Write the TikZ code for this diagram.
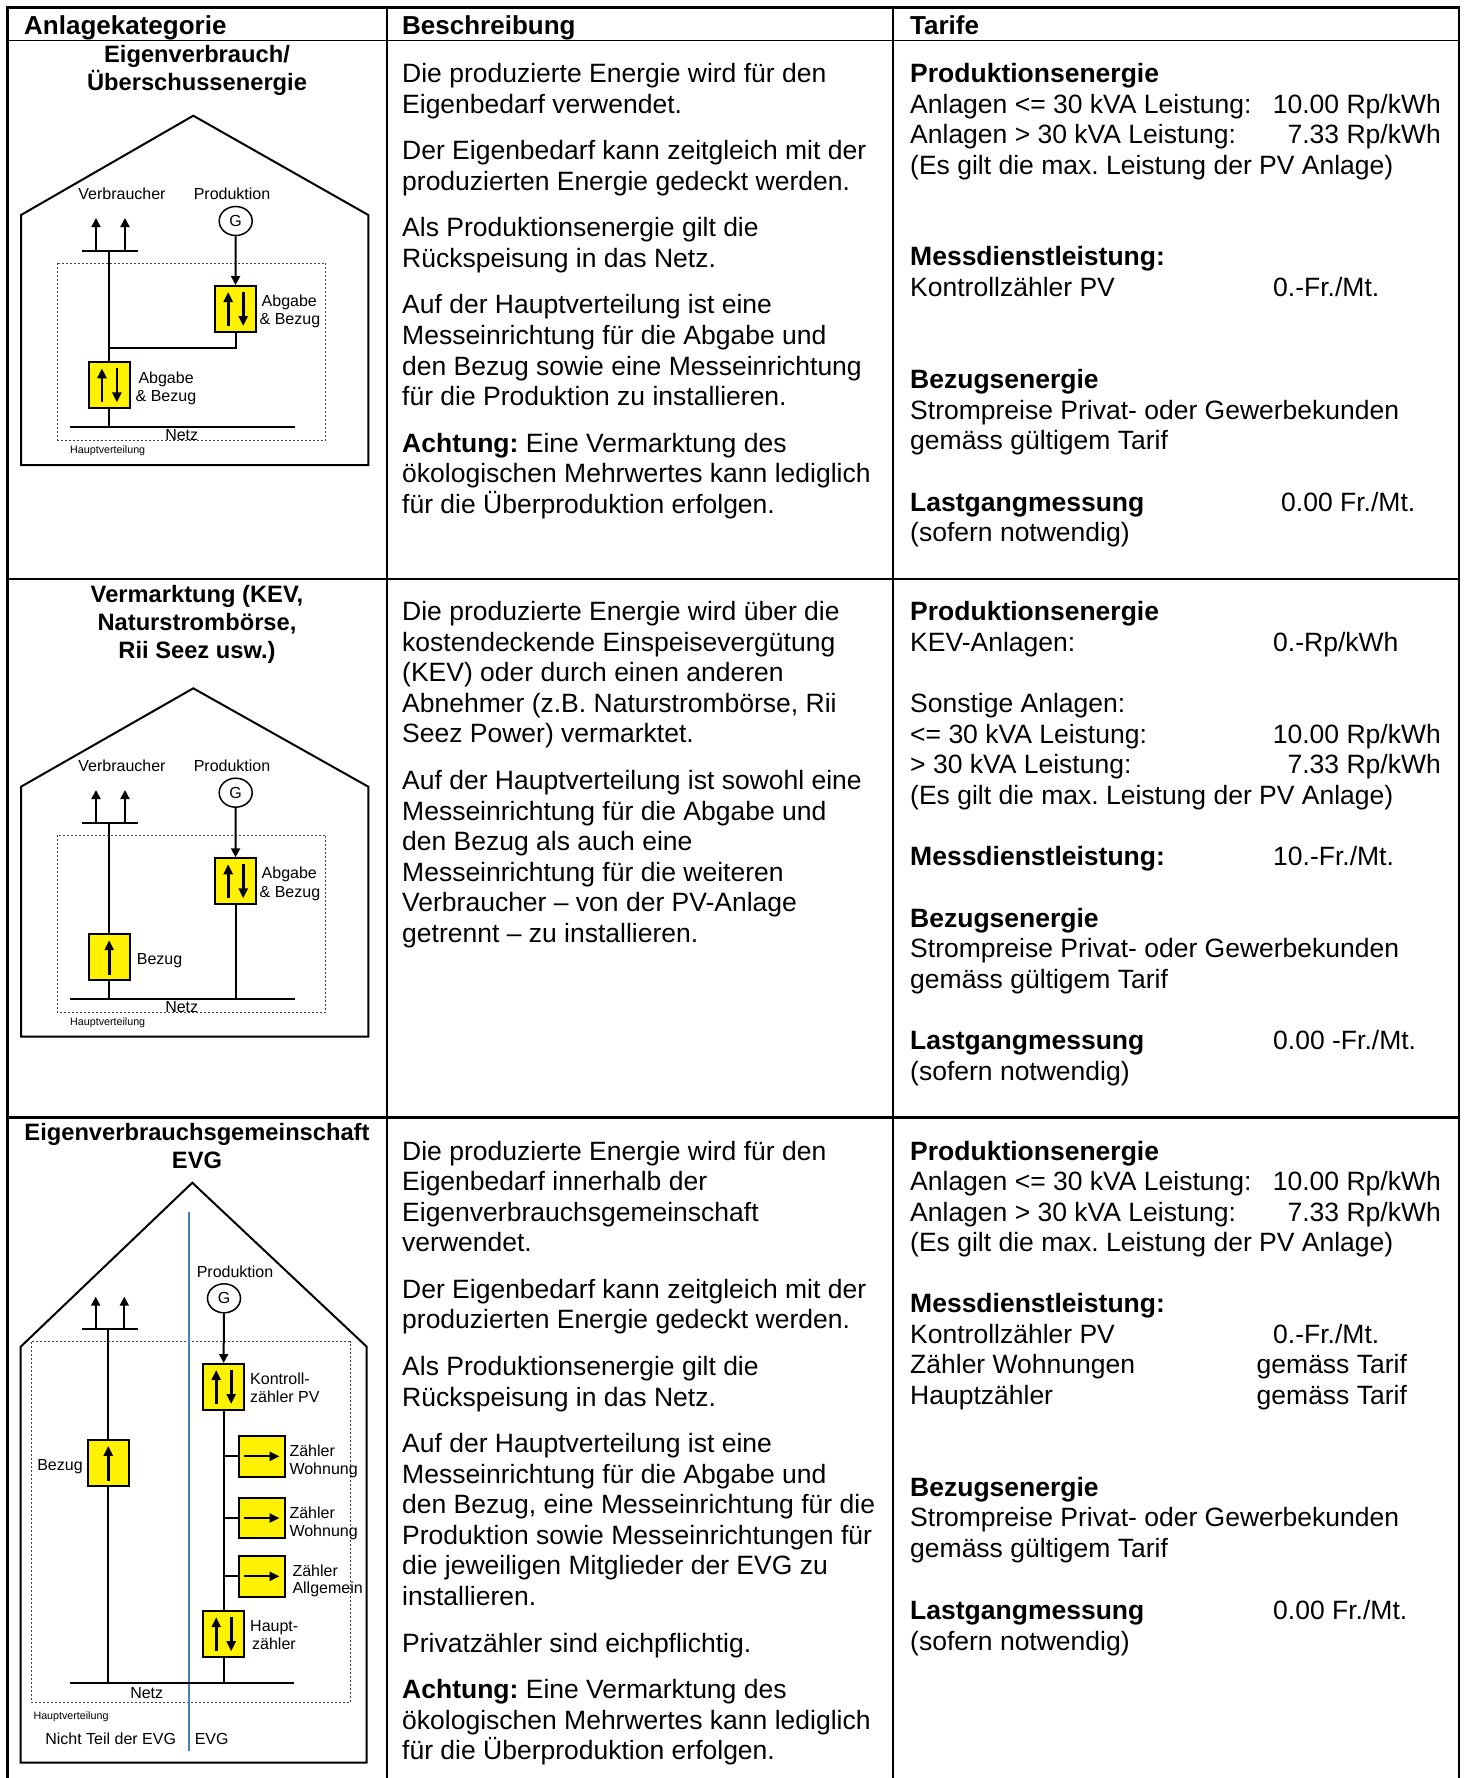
\documentclass[tikz,border=0pt]{standalone}
\usepackage{fontspec}
\setmainfont{Liberation Sans}
\usetikzlibrary{arrows.meta,shapes.geometric}
\frenchspacing
\newcount\lnum
\newcommand\Ln[3][]{\global\advance\lnum by 1\relax\node[body,#1] (ln\the\lnum) at (#2) {#3};}
\newcommand\lblfont{\fontsize{16pt}{19pt}\selectfont}
\newcommand\mupdown[1]{%
 \draw[marr] ([xshift=-7.3pt,yshift=7pt]#1.south) -- ([xshift=-7.3pt,yshift=-7pt]#1.north);
 \draw[marr] ([xshift=7.7pt,yshift=-7pt]#1.north) -- ([xshift=7.7pt,yshift=7pt]#1.south);}
\newcommand\mupone[1]{\draw[marr] ([yshift=6pt]#1.south) -- ([yshift=-7pt]#1.north);}
\newcommand\mright[1]{\draw[marr,line width=2.2pt] ([xshift=6pt]#1.west) -- ([xshift=-6.5pt]#1.east);}
\begin{document}
\begin{tikzpicture}[x=1pt,y=-1pt,
 wire/.style={line width=2pt,black},
 arr/.style={-{Triangle[length=9pt,width=9pt]}},
 marr/.style={line width=2.6pt,-{Triangle[length=10pt,width=9pt]}},
 meter/.style={draw,line width=2pt,fill=yellow,minimum width=41pt,minimum height=46pt,inner sep=0pt},
 zmeter/.style={meter,minimum width=46pt,minimum height=40.7pt},
 gen/.style={ellipse,draw,line width=1.5pt,minimum width=33pt,minimum height=29pt,inner sep=0pt,font=\lblfont},
 dist/.style={draw=black!75,line width=1pt,dash pattern=on 2pt off 2pt},
 house/.style={line width=2pt},
 lbl/.style={font=\lblfont,inner sep=0pt,anchor=base west},
 lblc/.style={lbl,anchor=base},
 tiny/.style={font=\fontsize{10.7pt}{12pt}\selectfont,inner sep=0pt,anchor=base},
 body/.style={font=\fontsize{26.5pt}{30.6pt}\selectfont,inner sep=0pt,anchor=base west},
 be/.style={anchor=base east},
 title/.style={font=\fontsize{23.7pt}{28pt}\selectfont\bfseries,inner sep=0pt,anchor=base},
 head/.style={font=\fontsize{26pt}{30pt}\selectfont\bfseries,inner sep=0pt,anchor=base west},
 evg/.style={draw={rgb,255:red,74;green,126;blue,187},line width=2pt}]
\useasboundingbox (0,0) rectangle (1467,1778);
\fill[white] (0,0) rectangle (1467,1778);
% ---------- table ----------
\draw[line width=2.5pt] (7.5,1778) -- (7.5,7.5) -- (1459,7.5) -- (1459,1778);
\draw[line width=1.5pt] (7.5,40.5) -- (1459,40.5);
\draw[line width=2.5pt] (7.5,579) -- (1459,579);
\draw[line width=2.5pt] (7.5,1117.5) -- (1459,1117.5);
\draw[line width=2pt] (387,7.5) -- (387,1778);
\draw[line width=2pt] (893,7.5) -- (893,1778);
\node[head] (h1) at (24,34) {Anlagekategorie};
\node[head] (h2) at (402,34) {Beschreibung};
\node[head] (h3) at (910,34) {Tarife};
% ---------- column 1 titles ----------
\node[title] (t1a) at (197,62.5) {Eigenverbrauch/};
\node[title] (t1b) at (197,90.8) {Überschussenergie};
\node[title] (t2a) at (197,602) {Vermarktung (KEV,};
\node[title] (t2b) at (197,630.3) {Naturstrombörse,};
\node[title] (t2c) at (197,658.6) {Rii Seez usw.)};
\node[title] (t3a) at (197,1140) {Eigenverbrauchsgemeinschaft};
\node[title] (t3b) at (197,1168.3) {EVG};
% ---------- house 1 ----------
\draw[house] (21,465) -- (21,215) -- (193.3,115.7) -- (368.3,215) -- (368.3,465) -- cycle;
\draw[dist] (57.3,263.3) rectangle (325.7,440);
\node[gen] (g1) at (235.7,221) {G};
\node[meter] (m1a) at (235.5,309) {};
\node[meter] (m1b) at (109.2,385.3) {};
\coordinate (b1l) at (81.7,251); \coordinate (b1r) at (138.3,251); \coordinate (b1c) at (109.2,251);
\coordinate (u1a0) at (96,251); \coordinate (u1a) at (96,218);
\coordinate (u1b0) at (125,251); \coordinate (u1b) at (125,218);
\coordinate (j1) at (109.2,348.3);
\coordinate (n1l) at (70,426.7); \coordinate (n1r) at (295,426.7);
\draw[wire] (b1l) -- (b1r);
\draw[wire,arr] (u1a0) -- (u1a);
\draw[wire,arr] (u1b0) -- (u1b);
\draw[wire,arr] (g1) -- (m1a);
\draw[wire] (m1a.south) |- (j1);
\draw[wire] (b1c) -- (m1b.north);
\draw[wire] (m1b.south) -- (m1b.south |- n1l);
\draw[wire] (n1l) -- (n1r);
\mupdown{m1a}
\mupdown{m1b}
\node[lblc] (v1) at (122,199.5) {Verbraucher};
\node[lblc] (p1) at (232,199.5) {Produktion};
\node[lbl] (a1a) at (261.5,306) {Abgabe};
\node[lbl] (a1b) at (259.5,324.5) {\& Bezug};
\node[lbl] (a1c) at (138.3,383.2) {Abgabe};
\node[lbl] (a1d) at (135.5,401.5) {\& Bezug};
\node[lblc] (nz1) at (181.7,440) {Netz};
\node[tiny] (hv1) at (107.7,453.8) {Hauptverteilung};
% ---------- house 2 ----------
\draw[house] (21,1036.7) -- (21,786.7) -- (193.3,688.3) -- (368.3,786.7) -- (368.3,1036.7) -- cycle;
\draw[dist] (57.3,835) rectangle (325.7,1012.3);
\node[gen] (g2) at (235.7,792.7) {G};
\node[meter] (m2a) at (235.5,881.3) {};
\node[meter] (m2b) at (109.2,957.2) {};
\coordinate (b2l) at (81.7,823.3); \coordinate (b2r) at (138.3,823.3); \coordinate (b2c) at (109.2,823.3);
\coordinate (u2a0) at (96,823.3); \coordinate (u2a) at (96,790);
\coordinate (u2b0) at (125,823.3); \coordinate (u2b) at (125,790);
\coordinate (n2l) at (70,999); \coordinate (n2r) at (295,999);
\draw[wire] (b2l) -- (b2r);
\draw[wire,arr] (u2a0) -- (u2a);
\draw[wire,arr] (u2b0) -- (u2b);
\draw[wire,arr] (g2) -- (m2a);
\draw[wire] (m2a.south) -- (m2a.south |- n2l);
\draw[wire] (b2c) -- (m2b.north);
\draw[wire] (m2b.south) -- (m2b.south |- n2l);
\draw[wire] (n2l) -- (n2r);
\mupdown{m2a}
\mupone{m2b}
\node[lblc] (v2) at (122,771.5) {Verbraucher};
\node[lblc] (p2) at (232,771.5) {Produktion};
\node[lbl] (a2a) at (261.5,878.2) {Abgabe};
\node[lbl] (a2b) at (259.5,897.2) {\& Bezug};
\node[lbl] (bz2) at (136.7,964.5) {Bezug};
\node[lblc] (nz2) at (181.7,1012.3) {Netz};
\node[tiny] (hv2) at (107.7,1025.5) {Hauptverteilung};
% ---------- house 3 ----------
\draw[house] (20.7,1762.7) -- (20.7,1346.7) -- (192.3,1182.7) -- (366.7,1346.7) -- (366.7,1762.7) -- cycle;
\draw[dist] (31.7,1341.7) rectangle (350,1702.7);
\coordinate (e1) at (189.3,1211.7); \coordinate (e2) at (189.3,1750.7);
\draw[evg] (e1) -- (e2);
\node[gen] (g3) at (224,1298.3) {G};
\node[meter] (kz) at (223.5,1387) {};
\node[meter] (bz3) at (108.3,1462.9) {};
\node[meter] (hz) at (223.5,1634.2) {};
\node[zmeter] (zw1) at (262,1456.3) {};
\node[zmeter] (zw2) at (262,1518) {};
\node[zmeter] (za) at (262,1576.3) {};
\coordinate (b3l) at (81.7,1329); \coordinate (b3r) at (137.7,1329); \coordinate (b3c) at (108.3,1329);
\coordinate (u3a0) at (95.7,1329); \coordinate (u3a) at (95.7,1296.7);
\coordinate (u3b0) at (124.3,1329); \coordinate (u3b) at (124.3,1296.7);
\coordinate (n3l) at (70,1683.3); \coordinate (n3r) at (294,1683.3);
\draw[wire] (b3l) -- (b3r);
\draw[wire,arr] (u3a0) -- (u3a);
\draw[wire,arr] (u3b0) -- (u3b);
\draw[wire,arr] (g3) -- (kz);
\draw[wire] (kz.south) -- (hz.north);
\draw[wire] (zw1.west) -- (zw1.west -| kz.south);
\draw[wire] (zw2.west) -- (zw2.west -| kz.south);
\draw[wire] (za.west) -- (za.west -| kz.south);
\draw[wire] (hz.south) -- (hz.south |- n3l);
\draw[wire] (b3c) -- (bz3.north);
\draw[wire] (bz3.south) -- (bz3.south |- n3l);
\draw[wire] (n3l) -- (n3r);
\mupdown{kz}
\mupdown{hz}
\mupone{bz3}
\mright{zw1}
\mright{zw2}
\mright{za}
\node[lblc] (p3) at (235,1277.2) {Produktion};
\node[lbl] (k3a) at (250,1384.5) {Kontroll-};
\node[lbl] (k3b) at (250,1402.2) {zähler PV};
\node[lbl] (w1a) at (289.3,1456.5) {Zähler};
\node[lbl] (w1b) at (289.3,1474.5) {Wohnung};
\node[lbl] (w2a) at (289.3,1518.2) {Zähler};
\node[lbl] (w2b) at (289.3,1536.2) {Wohnung};
\node[lbl] (aa) at (292.3,1576.2) {Zähler};
\node[lbl] (ab) at (292.3,1593.8) {Allgemein};
\node[lbl] (hza) at (250,1631.2) {Haupt-};
\node[lbl] (hzb) at (252,1649.5) {zähler};
\node[lblc] (bz3l) at (60,1470.5) {Bezug};
\node[lblc] (nz3) at (146.7,1698.8) {Netz};
\node[tiny] (hv3) at (71,1719.5) {Hauptverteilung};
\node[lblc] (nt) at (110.7,1744.8) {Nicht Teil der EVG};
\node[lblc] (ev) at (211.7,1744.8) {EVG};
% ---------- column 2 ----------
\Ln{402,82.5}{Die produzierte Energie wird für den}
\Ln{402,113.1}{Eigenbedarf verwendet.}
\Ln{402,159.6}{Der Eigenbedarf kann zeitgleich mit der}
\Ln{402,190.2}{produzierten Energie gedeckt werden.}
\Ln{402,236.7}{Als Produktionsenergie gilt die}
\Ln{402,267.3}{Rückspeisung in das Netz.}
\Ln{402,313.8}{Auf der Hauptverteilung ist eine}
\Ln{402,344.4}{Messeinrichtung für die Abgabe und}
\Ln{402,375.0}{den Bezug sowie eine Messeinrichtung}
\Ln{402,405.6}{für die Produktion zu installieren.}
\Ln{402,452.1}{{\bfseries Achtung:} Eine Vermarktung des}
\Ln{402,482.7}{ökologischen Mehrwertes kann lediglich}
\Ln{402,513.3}{für die Überproduktion erfolgen.}
\Ln{402,620.5}{Die produzierte Energie wird über die}
\Ln{402,651.1}{kostendeckende Einspeisevergütung}
\Ln{402,681.7}{(KEV) oder durch einen anderen}
\Ln{402,712.3}{Abnehmer (z.B. Naturstrombörse, Rii}
\Ln{402,742.9}{Seez Power) vermarktet.}
\Ln{402,789.4}{Auf der Hauptverteilung ist sowohl eine}
\Ln{402,820.0}{Messeinrichtung für die Abgabe und}
\Ln{402,850.6}{den Bezug als auch eine}
\Ln{402,881.2}{Messeinrichtung für die weiteren}
\Ln{402,911.8}{Verbraucher – von der PV-Anlage}
\Ln{402,942.4}{getrennt – zu installieren.}
\Ln{402,1160}{Die produzierte Energie wird für den}
\Ln{402,1190.6}{Eigenbedarf innerhalb der}
\Ln{402,1221.2}{Eigenverbrauchsgemeinschaft}
\Ln{402,1251.8}{verwendet.}
\Ln{402,1298.3}{Der Eigenbedarf kann zeitgleich mit der}
\Ln{402,1328.9}{produzierten Energie gedeckt werden.}
\Ln{402,1375.4}{Als Produktionsenergie gilt die}
\Ln{402,1406}{Rückspeisung in das Netz.}
\Ln{402,1452.5}{Auf der Hauptverteilung ist eine}
\Ln{402,1483.1}{Messeinrichtung für die Abgabe und}
\Ln{402,1513.7}{den Bezug, eine Messeinrichtung für die}
\Ln{402,1544.3}{Produktion sowie Messeinrichtungen für}
\Ln{402,1574.9}{die jeweiligen Mitglieder der EVG zu}
\Ln{402,1605.5}{installieren.}
\Ln{402,1652}{Privatzähler sind eichpflichtig.}
\Ln{402,1698.5}{{\bfseries Achtung:} Eine Vermarktung des}
\Ln{402,1729.1}{ökologischen Mehrwertes kann lediglich}
\Ln{402,1759.7}{für die Überproduktion erfolgen.}
% ---------- column 3 ----------
\Ln{910,82.5}{\bfseries Produktionsenergie}
\Ln{910,113.1}{Anlagen <= 30 kVA Leistung:}
\Ln[be]{1441,113.1}{10.00 Rp/kWh}
\Ln{910,143.7}{Anlagen > 30 kVA Leistung:}
\Ln[be]{1441,143.7}{7.33 Rp/kWh}
\Ln{910,174.3}{(Es gilt die max. Leistung der PV Anlage)}
\Ln{910,265.9}{\bfseries Messdienstleistung:}
\Ln{910,296.5}{Kontrollzähler PV}
\Ln{1273,296.5}{0.-Fr./Mt.}
\Ln{910,388.5}{\bfseries Bezugsenergie}
\Ln{910,419.1}{Strompreise Privat- oder Gewerbekunden}
\Ln{910,449.7}{gemäss gültigem Tarif}
\Ln{910,511}{\bfseries Lastgangmessung}
\Ln{1281,511}{0.00 Fr./Mt.}
\Ln{910,541.6}{(sofern notwendig)}
\Ln{910,620.5}{\bfseries Produktionsenergie}
\Ln{910,651.1}{KEV-Anlagen:}
\Ln{1273,651.1}{0.-Rp/kWh}
\Ln{910,712.5}{Sonstige Anlagen:}
\Ln{910,743.1}{<= 30 kVA Leistung:}
\Ln[be]{1441,743.1}{10.00 Rp/kWh}
\Ln{910,773.7}{> 30 kVA Leistung:}
\Ln[be]{1441,773.7}{7.33 Rp/kWh}
\Ln{910,804.3}{(Es gilt die max. Leistung der PV Anlage)}
\Ln{910,865.8}{\bfseries Messdienstleistung:}
\Ln{1273,865.8}{10.-Fr./Mt.}
\Ln{910,927}{\bfseries Bezugsenergie}
\Ln{910,957.6}{Strompreise Privat- oder Gewerbekunden}
\Ln{910,988.2}{gemäss gültigem Tarif}
\Ln{910,1049.5}{\bfseries Lastgangmessung}
\Ln{1273,1049.5}{0.00 -Fr./Mt.}
\Ln{910,1080.1}{(sofern notwendig)}
\Ln{910,1160}{\bfseries Produktionsenergie}
\Ln{910,1190.6}{Anlagen <= 30 kVA Leistung:}
\Ln[be]{1441,1190.6}{10.00 Rp/kWh}
\Ln{910,1221.2}{Anlagen > 30 kVA Leistung:}
\Ln[be]{1441,1221.2}{7.33 Rp/kWh}
\Ln{910,1251.8}{(Es gilt die max. Leistung der PV Anlage)}
\Ln{910,1312.5}{\bfseries Messdienstleistung:}
\Ln{910,1343.1}{Kontrollzähler PV}
\Ln{1273,1343.1}{0.-Fr./Mt.}
\Ln{910,1373.7}{Zähler Wohnungen}
\Ln{1256.5,1373.7}{gemäss Tarif}
\Ln{910,1404.3}{Hauptzähler}
\Ln{1256.5,1404.3}{gemäss Tarif}
\Ln{910,1496.3}{\bfseries Bezugsenergie}
\Ln{910,1526.9}{Strompreise Privat- oder Gewerbekunden}
\Ln{910,1557.5}{gemäss gültigem Tarif}
\Ln{910,1619.9}{\bfseries Lastgangmessung}
\Ln{1273,1619.9}{0.00 Fr./Mt.}
\Ln{910,1650.5}{(sofern notwendig)}
\end{tikzpicture}
\end{document}
